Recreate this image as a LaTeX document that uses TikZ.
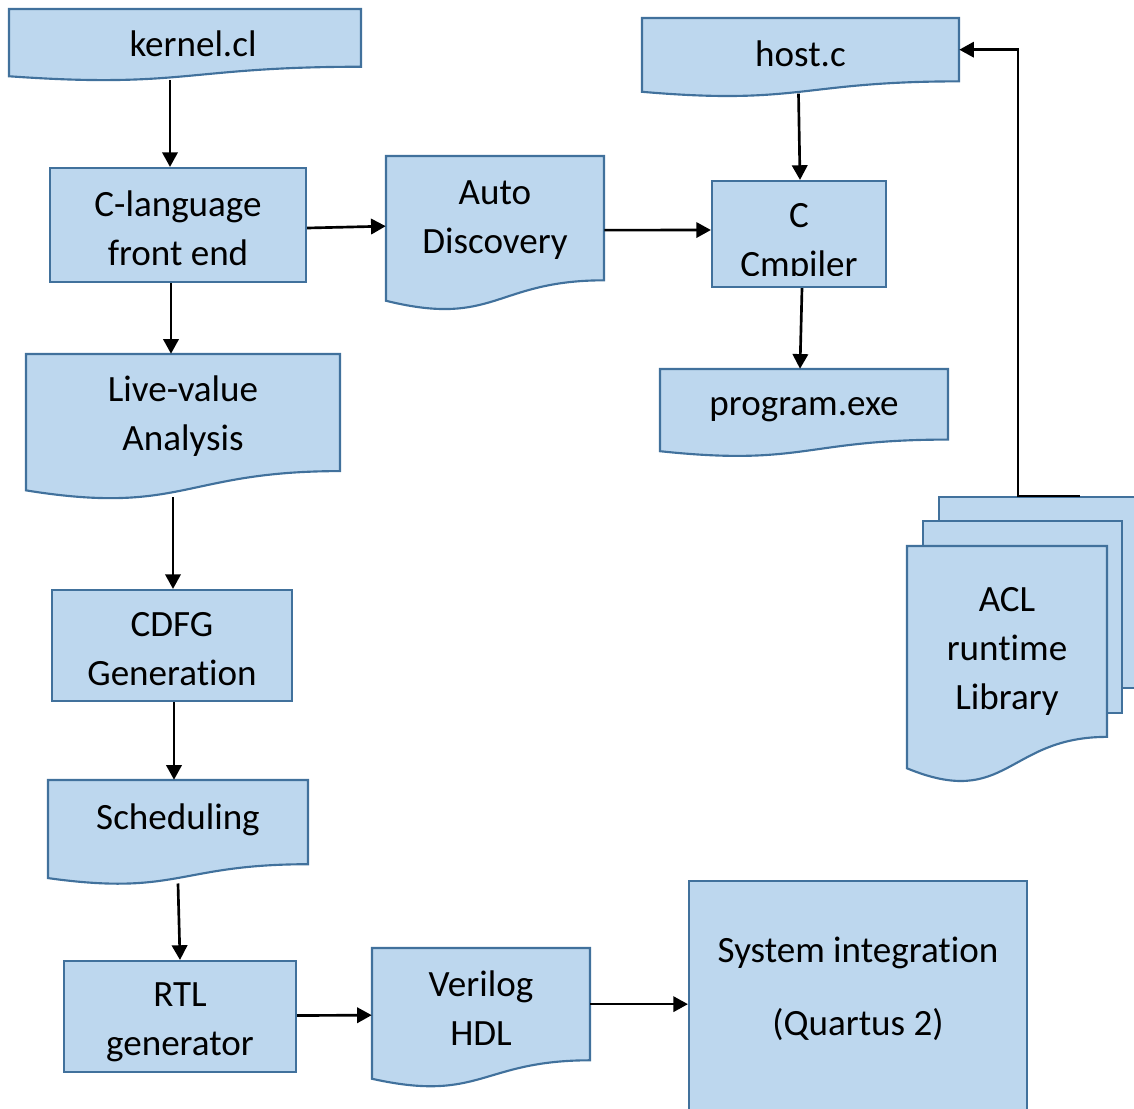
\documentclass[tikz,border=0pt]{standalone}
\usepackage{fontspec}
\setmainfont{Carlito}[Ligatures={NoCommon}]
\usetikzlibrary{arrows.meta,calc}
\definecolor{boxfill}{HTML}{BDD7EE}
\definecolor{boxline}{HTML}{41719C}
\newcommand\boxfont{\fontsize{27.8}{36.8}\selectfont}
% flowchart "document" shape:
% [#1 text offset x,y] #2 name, #3 left, #4 top, #5 right, #6 height, #7 text
\newcommand\docshape[7][0,4]{%
  \pgfmathsetmacro\dxm{(#3+#5)/2}%
  \pgfmathsetmacro\dyA{#4+0.802*#6}%
  \pgfmathsetmacro\dyB{#4+1.1075*#6}%
  \pgfmathsetmacro\dyC{#4+0.934*#6}%
  \pgfmathsetmacro\dyT{#4+0.401*#6}%
  \pgfmathsetmacro\dw{(#5-#3)*0.75}%
  \pgfmathsetmacro\dh{0.802*#6*0.75}%
  \filldraw[shapebox] (#3,#4) -- (#5,#4) -- (#5,\dyA)
    .. controls (\dxm,\dyA) and (\dxm,\dyB) .. (#3,\dyC) -- cycle;
  \node[inner sep=0pt, minimum width=\dw pt, minimum height=\dh pt] (#2) at (\dxm,\dyT) {};
  \node[txt] (#2-t) at ($(#2.center)+(#1)$) {#7};
}
% plain process box: [#1 text offset x,y] #2 name, #3 cx, #4 cy, #5 width, #6 height, #7 text
\newcommand\procbox[7][0,4]{%
  \node[shapebox, inner sep=0pt, minimum width=#5*0.75pt, minimum height=#6*0.75pt] (#2) at (#3,#4) {};
  \node[txt] (#2-t) at ($(#2.center)+(#1)$) {#7};
}
\tikzset{
  shapebox/.style={fill=boxfill, draw=boxline, line width=1.6pt, line join=miter},
  txt/.style={align=center, inner sep=0pt, font=\boxfont, text=black},
  arr/.style={line width=2pt, -{Triangle[length=11pt,width=11.5pt]}},
}
\begin{document}
\begin{tikzpicture}[x=0.75pt, y=-0.75pt]
\useasboundingbox (0,0) rectangle (1134,1108);

% kernel side
\docshape[8,6]{kernel}{9}{9}{361}{72}{kernel.cl}
\procbox[0,3]{front}{178}{225}{256}{114}{C-language\\front end}
\docshape[0,2]{auto}{386}{156}{604}{155}{Auto\\Discovery}
\docshape[0,4]{live}{26}{354}{340}{146}{Live-value\\Analysis}
\procbox[0,4]{cdfg}{172}{645.5}{240}{111}{CDFG\\Generation}
\docshape[0,-2]{sched}{48}{780}{308}{105}{Scheduling}
\procbox[0,6]{rtl}{180}{1016.5}{232}{111}{RTL\\generator}
\docshape[0,4]{veri}{372}{948}{590}{140}{Verilog\\HDL}
\node[shapebox, minimum width=338*0.75pt, minimum height=249*0.75pt] (sys) at (858,1005.5) {};
\node[txt] (sys-t) at (858,989) {System integration\\[18pt](Quartus 2)};

% host side
\docshape[0,4]{host}{642}{18}{959}{79}{host.c}
\node[shapebox, minimum width=174*0.75pt, minimum height=106*0.75pt] (cc) at (799,234) {};
\begin{scope}
  \clip (cc.north west) rectangle ($(cc.south east)+(0,-13)$);
  \node[txt] (cc-t) at (799,243) {C\\Cmpiler};
\end{scope}
\docshape[0,5]{prog}{660}{369}{948}{88}{program.exe}

% runtime library (stacked pages)
\node[shapebox, minimum width=221*0.75pt, minimum height=191*0.75pt] (back) at (1049.5,592.5) {};
\node[shapebox, minimum width=199*0.75pt, minimum height=192*0.75pt] (mid) at (1022.5,617) {};
\docshape[0,10]{acl}{907}{546}{1107}{238}{ACL\\runtime\\Library}

% connectors
\draw[arr] ($(kernel.south)+(-15,13)$) -- ($(front.north)+(-8,0)$);
\draw[arr] ($(front.south)+(-7,0)$) -- ($(live.north)+(-12,0)$);
\draw[arr] ($(front.east)+(0,3)$) -- ($(auto.west)+(0,8)$);
\draw[arr] ($(auto.east)+(0,12)$) -- ($(cc.west)+(0,-4)$);
\draw[arr] ($(host.south)+(-2,12)$) -- ($(cc.north)+(1,0)$);
\draw[arr] ($(cc.south)+(3,0)$) -- ($(prog.north)+(-4,0)$);
\draw[arr] ($(live.south)+(-10,26)$) -- ($(cdfg.north)+(1,0)$);
\draw[arr] ($(cdfg.south)+(2,0)$) -- ($(sched.north)+(-4,0)$);
\draw[arr] ($(sched.south)+(0,19)$) -- (rtl.north);
\draw[arr] ($(rtl.east)+(0,-1)$) -- ($(veri.west)+(0,11)$);
\draw[arr] (veri.east) -- (veri.east -| sys.west);
\draw[arr] ($(back.north west)+(142,0)$) -- ($(back.north west)+(80,0)$) |- (host.east);
\end{tikzpicture}
\end{document}
